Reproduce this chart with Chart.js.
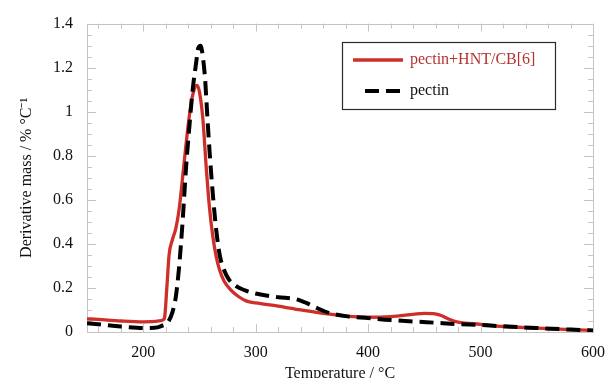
<!DOCTYPE html>
<html><head><meta charset="utf-8">
<script src="https://cdn.jsdelivr.net/npm/chart.js@4.4.0/dist/chart.umd.min.js"></script>
<style>
html,body{margin:0;padding:0;background:#fff;overflow:hidden;width:616px;height:378px;}
#wrap{position:relative;width:616px;height:386px;}
</style></head><body>
<div id="wrap"><canvas id="c" width="616" height="386"></canvas></div>
<script>
// ---- data ----
const seriesNames = ['pectin+HNT/CB[6]', 'pectin'];
const hntTemps  = [150, 160, 180, 200, 214, 218, 219, 221, 223, 226, 229, 232, 236, 240, 243, 246, 248, 250, 253, 256, 259, 262, 265, 268, 272, 278, 285, 292, 300, 320, 340, 360, 380, 400, 420, 440, 450, 458, 465, 472, 480, 500, 520, 550, 580, 600];
const hntValues = [0.060, 0.057, 0.050, 0.046, 0.050, 0.056, 0.065, 0.20, 0.35, 0.42, 0.47, 0.56, 0.75, 0.94, 1.05, 1.11, 1.12, 1.09, 0.97, 0.75, 0.56, 0.43, 0.34, 0.28, 0.23, 0.19, 0.16, 0.14, 0.132, 0.118, 0.100, 0.085, 0.072, 0.067, 0.070, 0.080, 0.085, 0.083, 0.075, 0.058, 0.045, 0.035, 0.025, 0.018, 0.011, 0.007];
const pectinTemps  = [150, 160, 180, 200, 210, 216, 222, 226, 229, 232, 235, 238, 241, 244, 247, 249, 251, 253, 255, 257, 259, 262, 265, 268, 272, 276, 282, 290, 300, 320, 335, 345, 355, 365, 380, 400, 420, 440, 460, 480, 500, 520, 550, 580, 600];
const pectinValues = [0.040, 0.035, 0.025, 0.018, 0.019, 0.027, 0.045, 0.09, 0.16, 0.30, 0.50, 0.74, 0.93, 1.10, 1.22, 1.29, 1.30, 1.25, 1.15, 0.98, 0.82, 0.62, 0.46, 0.35, 0.28, 0.24, 0.21, 0.19, 0.175, 0.158, 0.150, 0.132, 0.108, 0.087, 0.072, 0.063, 0.054, 0.048, 0.042, 0.036, 0.032, 0.026, 0.018, 0.011, 0.007];
const xTickLabels = [200, 300, 400, 500, 600];
const yTickLabels = [0, 0.2, 0.4, 0.6, 0.8, 1, 1.2, 1.4];
const xRange = [150, 600];
const yRange = [0, 1.4];
const xMinorStep = 20;
const yMinorStep = 0.05;

const RED = '#cf2f2a';
const FONT = "'Liberation Serif', 'Times New Roman', serif";
const FRAME = '#c4c4c4';

const toPoints = (xs, ys) => xs.map((x, i) => ({x: x, y: ys[i]}));

const framePlugin = {
  id: 'frame',
  beforeDatasetsDraw(chart) {
    const {ctx, chartArea: a, scales: {x, y}} = chart;
    ctx.save();
    ctx.strokeStyle = FRAME;
    ctx.lineWidth = 1;
    ctx.strokeRect(Math.round(a.left) + 0.5, Math.round(a.top) + 0.5, Math.round(a.right - a.left), Math.round(a.bottom - a.top));
    ctx.beginPath();
    for (let v = Math.ceil(xRange[0] / xMinorStep) * xMinorStep; v <= xRange[1] + 1e-9; v += xMinorStep) {
      const px = Math.round(x.getPixelForValue(v)) + 0.5;
      const len = xTickLabels.includes(v) ? 8 : 5;
      ctx.moveTo(px, a.bottom); ctx.lineTo(px, a.bottom - len);
      ctx.moveTo(px, a.top); ctx.lineTo(px, a.top + len);
    }
    const n = Math.round((yRange[1] - yRange[0]) / yMinorStep);
    for (let i = 0; i <= n; i++) {
      const v = yRange[0] + i * yMinorStep;
      const py = Math.round(y.getPixelForValue(v)) + 0.5;
      const len = i % 4 === 0 ? 9 : 5;
      ctx.moveTo(a.left, py); ctx.lineTo(a.left + len, py);
      ctx.moveTo(a.right, py); ctx.lineTo(a.right - len, py);
    }
    ctx.stroke();
    ctx.restore();
  }
};

const legendPlugin = {
  id: 'boxLegend',
  afterDraw(chart) {
    const {ctx} = chart;
    const ds = chart.data.datasets;
    const bx = 342, by = 42, bw = 213, bh = 67;
    ctx.save();
    ctx.fillStyle = '#fff';
    ctx.fillRect(bx, by, bw, bh);
    ctx.strokeStyle = '#2a2a2a';
    ctx.lineWidth = 1.2;
    ctx.strokeRect(bx + 0.5, by + 0.5, bw, bh);
    const rows = [
      {d: ds[0], y: 60, x0: 353, x1: 403, textColor: '#b5322e'},
      {d: ds[1], y: 91, x0: 365, x1: 402, textColor: '#111'}
    ];
    rows.forEach(r => {
      ctx.beginPath();
      ctx.strokeStyle = r.d.borderColor;
      ctx.lineWidth = r.d.borderWidth;
      ctx.setLineDash(r.d.borderDash || []);
      ctx.moveTo(r.x0, r.y); ctx.lineTo(r.x1, r.y);
      ctx.stroke();
      ctx.setLineDash([]);
      ctx.fillStyle = r.textColor;
      ctx.font = "16px " + FONT;
      ctx.textBaseline = 'middle';
      ctx.textAlign = 'left';
      ctx.fillText(r.d.label, 410, r.y);
    });
    ctx.restore();
  }
};

new Chart(document.getElementById('c'), {
  type: 'line',
  data: {
    datasets: [
      {label: seriesNames[0], data: toPoints(hntTemps, hntValues), borderColor: RED, borderWidth: 3.3,
       pointRadius: 0, cubicInterpolationMode: 'monotone', fill: false, order: 2},
      {label: seriesNames[1], data: toPoints(pectinTemps, pectinValues), borderColor: '#000', borderWidth: 4,
       borderDash: [14, 7], pointRadius: 0, cubicInterpolationMode: 'monotone', fill: false, order: 1}
    ]
  },
  options: {
    responsive: false,
    animation: false,
    events: [],
    layout: {padding: {top: 18, right: 14, left: 0, bottom: 0}},
    plugins: {legend: {display: false}, tooltip: {enabled: false}},
    scales: {
      x: {
        type: 'linear', min: xRange[0], max: xRange[1],
        afterBuildTicks: s => { s.ticks = xTickLabels.map(v => ({value: v})); },
        afterFit: s => { s.height = 54; },
        grid: {display: false, drawTicks: false},
        border: {display: false},
        ticks: {color: '#111', font: {family: FONT, size: 16}, padding: 11, maxRotation: 0, autoSkip: false,
                callback: v => String(v)},
        title: {display: true, text: 'Temperature / °C', color: '#111', font: {family: FONT, size: 16}, padding: {top: 0, bottom: 3}}
      },
      y: {
        type: 'linear', min: yRange[0], max: yRange[1],
        afterBuildTicks: s => { s.ticks = yTickLabels.map(v => ({value: v})); },
        afterFit: s => { s.width = 87; },
        grid: {display: false, drawTicks: false},
        border: {display: false},
        ticks: {color: '#111', font: {family: FONT, size: 16}, padding: 14, autoSkip: false,
                callback: v => String(Math.round(v * 10) / 10)},
        title: {display: true, text: 'Derivative mass / % °C⁻¹', color: '#111', font: {family: FONT, size: 16}, padding: {top: 17, bottom: 0}}
      }
    }
  },
  plugins: [framePlugin, legendPlugin]
});
</script>
</body></html>
